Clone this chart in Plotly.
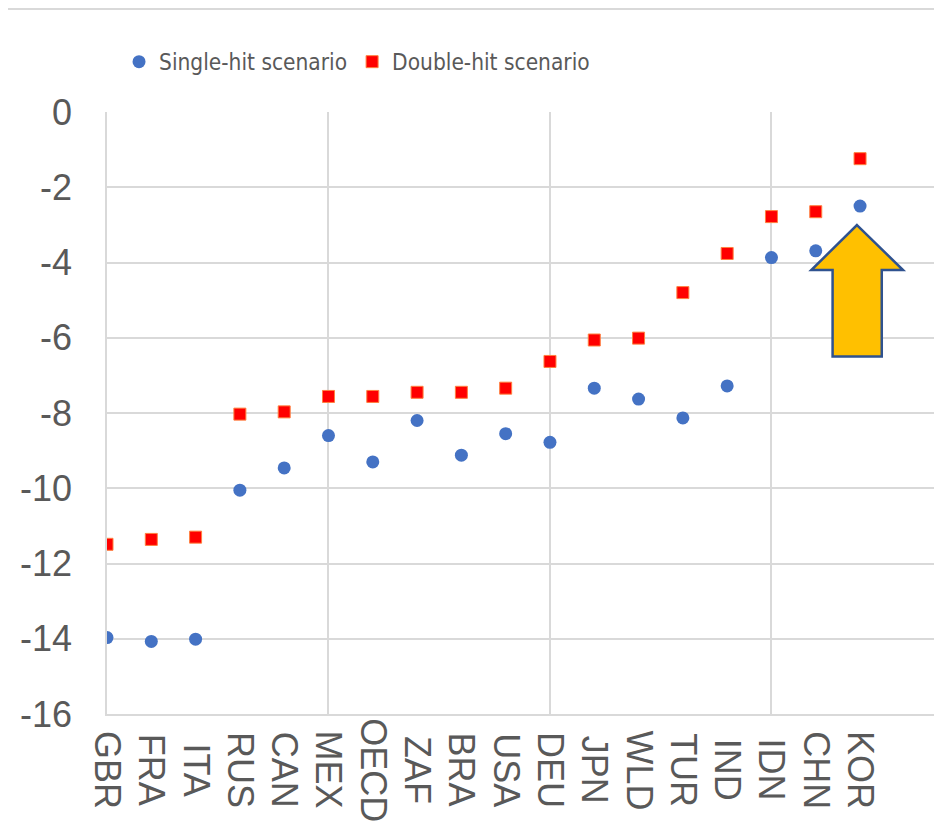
import plotly.graph_objects as go

categories = ["GBR", "FRA", "ITA", "RUS", "CAN", "MEX", "OECD", "ZAF", "BRA",
              "USA", "DEU", "JPN", "WLD", "TUR", "IND", "IDN", "CHN", "KOR"]
single_hit = [-13.97, -14.07, -14.01, -10.05, -9.46, -8.60, -9.30, -8.20, -9.12,
              -8.55, -8.78, -7.34, -7.63, -8.13, -7.28, -3.87, -3.69, -2.50]
double_hit = [-11.49, -11.36, -11.30, -8.03, -7.97, -7.56, -7.56, -7.45, -7.45,
              -7.34, -6.63, -6.06, -6.01, -4.80, -3.76, -2.78, -2.65, -1.24]
y_ticks = [0, -2, -4, -6, -8, -10, -12, -14, -16]

x_idx = list(range(len(categories)))
GRID = "#D9D9D9"
TXT = "#595959"

fig = go.Figure()
fig.add_trace(go.Scatter(x=x_idx, y=single_hit, mode="markers", name="Single-hit scenario",
                         marker=dict(symbol="circle", size=13, color="#4472C4")))
fig.add_trace(go.Scatter(x=x_idx, y=double_hit, mode="markers", name="Double-hit scenario",
                         marker=dict(symbol="square", size=12, color="#FF0000",
                                     line=dict(color="#FF8040", width=1))))

# category labels, rotated and centred below the axis
annotations = []
for i, c in enumerate(categories):
    annotations.append(dict(x=i, y=-0.093, xref="x", yref="paper", text=c, showarrow=False,
                            textangle=90, xanchor="center", yanchor="middle",
                            font=dict(family="Liberation Sans", size=36, color=TXT)))

# block arrow (decoration) in data units
arrow = "M 16.93 -3.005 L 17.97 -4.20 L 17.49 -4.20 L 17.49 -6.50 L 16.38 -6.50 L 16.38 -4.20 L 15.90 -4.20 Z"
shapes = [
    dict(type="path", path=arrow, xref="x", yref="y", fillcolor="#FFC000",
         line=dict(color="#2F528F", width=2.5), layer="above"),
    dict(type="line", xref="paper", yref="paper", x0=-0.2, x1=1.0, y0=1.171, y1=1.171,
         line=dict(color=GRID, width=2)),
]

fig.update_layout(
    width=934, height=820,
    margin=dict(l=99, r=0, t=104, b=114, autoexpand=False),
    paper_bgcolor="white", plot_bgcolor="white",
    showlegend=True,
    legend=dict(orientation="h", x=0.0144, xanchor="left", y=1.083, yanchor="middle",
                font=dict(family="DejaVu Sans Condensed", size=22.5, color=TXT),
                itemsizing="trace", bgcolor="rgba(0,0,0,0)"),
    xaxis=dict(range=[0, 18.85], tickmode="linear", tick0=0, dtick=5, showticklabels=False,
               showgrid=True, gridcolor=GRID, gridwidth=1.5, zeroline=False,
               showline=True, linecolor=GRID, linewidth=1.5, ticks=""),
    yaxis=dict(range=[-16, 0], tickmode="array", tickvals=y_ticks,
               ticktext=[str(v) for v in y_ticks],
               showgrid=True, gridcolor=GRID, gridwidth=1.5, zeroline=False,
               showline=True, linecolor=GRID, linewidth=1.5, ticks="",
               ticklabelstandoff=26,
               tickfont=dict(family="Liberation Sans", size=36, color=TXT)),
    annotations=annotations,
    shapes=shapes,
)

fig.write_html("out.html")
